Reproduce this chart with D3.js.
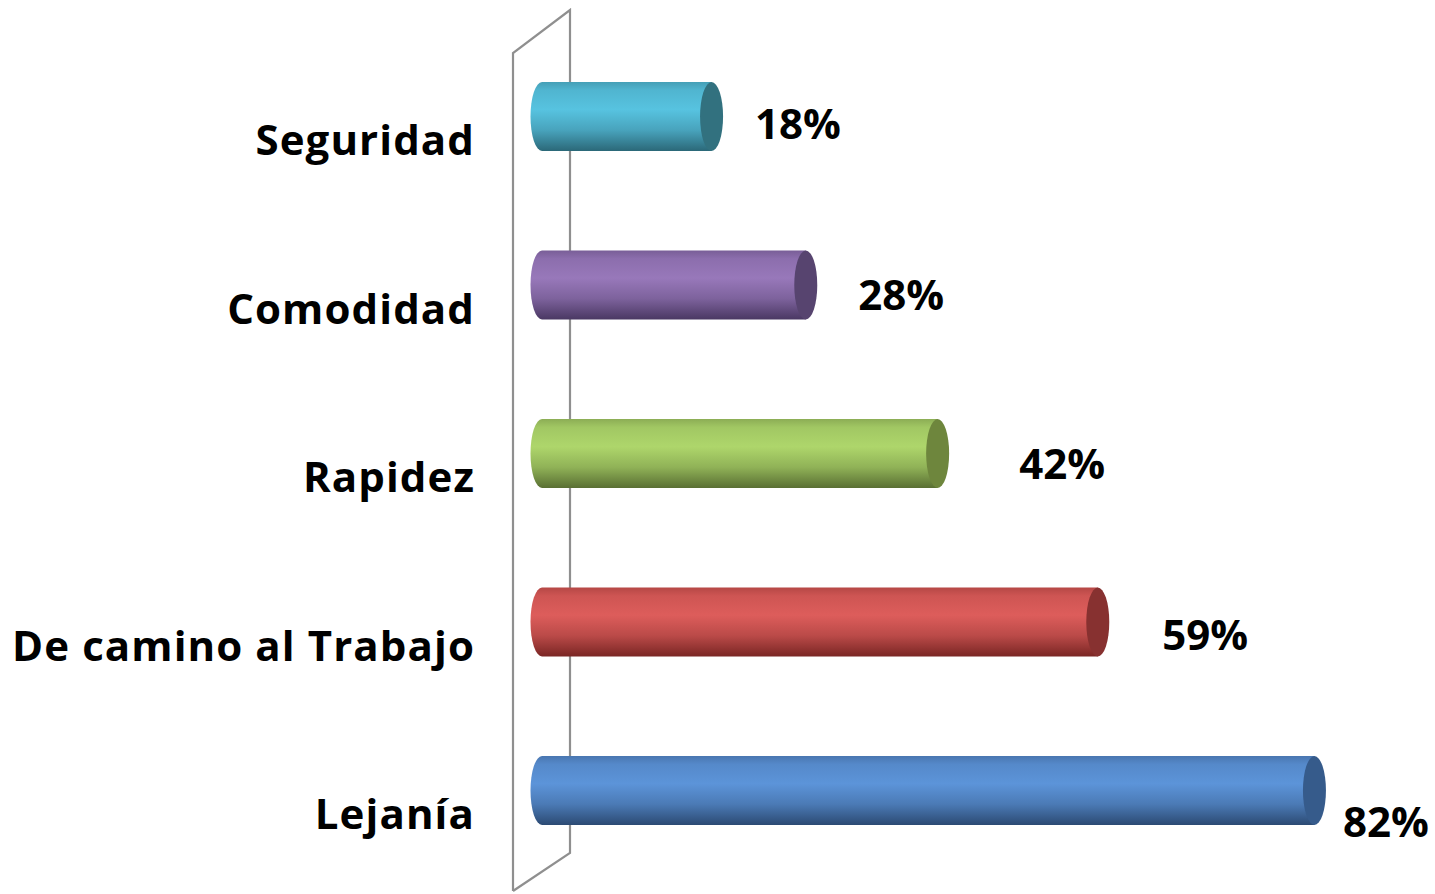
<!DOCTYPE html>
<html>
<head>
<meta charset="utf-8">
<script src="https://cdn.jsdelivr.net/npm/d3@7"></script>
<style>
  html, body { margin: 0; padding: 0; background: #ffffff; }
  svg { display: block; }
  text { font-family: "Open Sans", "Noto Sans", sans-serif; font-weight: 700; fill: #000; }
</style>
</head>
<body>
<svg id="chart" width="1435" height="894"></svg>
<script>
// ---- data ----
const categories = ["Seguridad", "Comodidad", "Rapidez", "De camino al Trabajo", "Lejanía"];
const values = [18, 28, 42, 59, 82];
const valueLabels = ["18%", "28%", "42%", "59%", "82%"];
const lightColors = ["#57c3e0", "#9878ba", "#aed66b", "#dd5d5b", "#5c94d9"];
const darkColors  = ["#2b6878", "#4a3863", "#596f33", "#7a2624", "#2c4a73"];
const capColors   = ["#32717f", "#57446f", "#6e863d", "#873130", "#365b8b"];

// ---- layout (not data) ----
const labelOffsets = [[32, 22.5], [41, 25], [70, 25.5], [53, 27.5], [17, 46.5]];
const W = 1435, H = 894;
const barH = 69, capRx = 11.5;

const svg = d3.select("#chart");
const x = d3.scaleLinear().domain([0, 100]).range([542, 1484]);
const y = d3.scalePoint().domain(categories).range([116.5, 790.5]);

// gradients
const defs = svg.append("defs");
categories.forEach((c, i) => {
  const g = defs.append("linearGradient").attr("id", "g" + i)
    .attr("x1", 0).attr("y1", 0).attr("x2", 0).attr("y2", 1);
  const mid = d3.interpolateRgb(lightColors[i], darkColors[i]);
  g.append("stop").attr("offset", "0%").attr("stop-color", mid(0.4));
  g.append("stop").attr("offset", "12%").attr("stop-color", mid(0.15));
  g.append("stop").attr("offset", "40%").attr("stop-color", lightColors[i]);
  g.append("stop").attr("offset", "70%").attr("stop-color", mid(0.35));
  g.append("stop").attr("offset", "100%").attr("stop-color", darkColors[i]);
});

// back wall (3D axis plane)
const wall = svg.append("g").attr("fill", "none").attr("stroke", "#8f8f8f").attr("stroke-width", 2.2);
wall.append("path").attr("d", "M513,891 L513,53 L570,10 L570,853 L513,891");

// bars (cylinders)
const bars = svg.append("g").selectAll("g").data(categories).join("g");
bars.each(function(c, i) {
  const g = d3.select(this);
  const cy = y(c);
  const x0 = x(0), x1 = x(values[i]);
  const top = cy - barH / 2, bot = cy + barH / 2;
  const path = `M${x1},${top} L${x0},${top} A${capRx},${barH / 2} 0 0 0 ${x0},${bot} L${x1},${bot} Z`;
  g.append("path").attr("d", path).attr("fill", `url(#g${i})`);
  g.append("ellipse").attr("cx", x1).attr("cy", cy).attr("rx", capRx).attr("ry", barH / 2)
    .attr("fill", capColors[i]);
});

// category labels
svg.append("g").selectAll("text").data(categories).join("text")
  .attr("x", 475)
  .attr("y", d => y(d) + 38.5)
  .attr("text-anchor", "end")
  .attr("font-size", 42)
  .attr("letter-spacing", 1.1)
  .text(d => d);

// value labels
svg.append("g").selectAll("text").data(categories).join("text")
  .attr("x", (d, i) => x(values[i]) + capRx + labelOffsets[i][0])
  .attr("y", (d, i) => y(d) + labelOffsets[i][1])
  .attr("font-size", 42)
  .text((d, i) => valueLabels[i]);
</script>
</body>
</html>
